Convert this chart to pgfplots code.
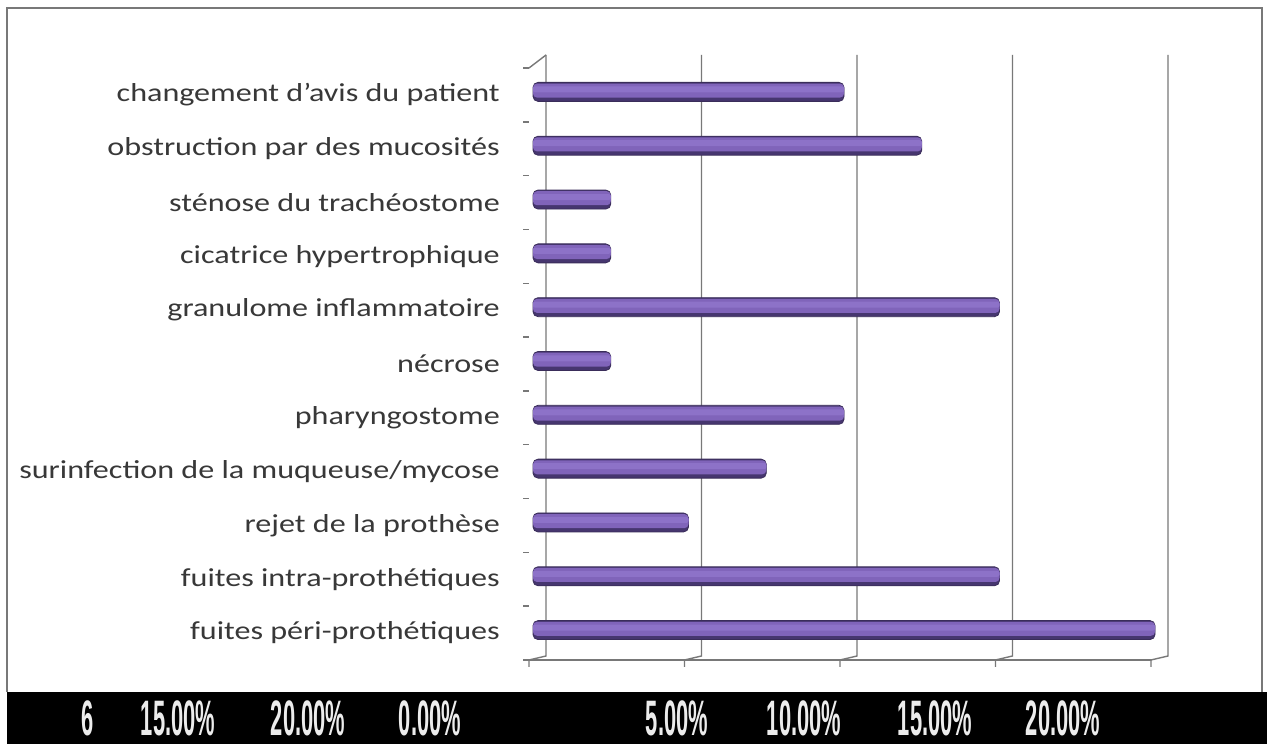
\documentclass[border=0pt]{standalone}
\usepackage{pgfplots}
\pgfplotsset{compat=1.18}
\usepackage{fontspec}
\setmainfont{Carlito}
\newfontfamily\bandfont{Liberation Sans}
\definecolor{barDark}{HTML}{46366F}
\definecolor{barMain}{HTML}{8064BA}
\definecolor{barLight}{HTML}{8D72C8}
\definecolor{barEdge}{HTML}{3A2D5A}
\definecolor{gridc}{HTML}{787878}
\pgfplotstableread{
y v
0 20
1 15
2 5
3 7.5
4 10
5 2.5
6 15
7 2.5
8 2.5
9 12.5
10 10
}\datatable
\begin{document}
\begin{tikzpicture}[x=1bp,y=1bp]
\useasboundingbox (0,0) rectangle (1267,744);
\fill[white] (0,0) rectangle (1267,744);
% outer frame
\draw[gridc, line width=2bp] (7,52) -- (7,736) -- (1262,736) -- (1262,52);
% black band with labels
\fill[black] (7,0) rectangle (1267,52);
\foreach \xx/\tt in {88/6,178/15.00\%,308/20.00\%,430/0.00\%,677/5.00\%,804/10.00\%,935/15.00\%,1063/20.00\%}{
  \node[text=white!85!gray, inner sep=0pt, xscale=0.44, font=\bandfont\bfseries\fontsize{50}{50}\selectfont] at (\xx,26) {\tt};
}
\begin{axis}[
  at={(533bp,84bp)}, anchor=south west,
  scale only axis, width=622bp, height=592bp,
  xmin=0, xmax=20, ymin=-0.5, ymax=10.5,
  axis line style={draw=none},
  xtick=\empty,
  ytick={0,...,10},
  yticklabels={fuites péri-prothétiques, fuites intra-prothétiques, rejet de la prothèse, surinfection de la muqueuse/mycose, pharyngostome, nécrose, granulome inflammatoire, cicatrice hypertrophique, sténose du trachéostome, obstruction par des mucosités, changement d'avis du patient},
  major tick length=0pt,
  yticklabel style={font=\fontsize{26}{26}\selectfont, inner sep=0pt, anchor=east, xshift=-33bp, xscale=1.24, text=black!78},
  clip=false,
]
% back wall gridlines and floor connectors
\pgfplotsinvokeforeach{0,5,10,15,20}{
  \draw[gridc, line width=1.4bp] ([xshift=13bp,yshift=13bp]axis cs:#1,10.5) -- ([xshift=13bp,yshift=4bp]axis cs:#1,-0.5) -- ([xshift=-4bp]axis cs:#1,-0.5) -- ([xshift=-4bp,yshift=-7bp]axis cs:#1,-0.5);
}
% front floor line
\draw[gridc, line width=1.4bp] ([xshift=-8bp]axis cs:0,-0.5) -- ([xshift=-4bp]axis cs:20,-0.5);
% left ticks at category boundaries
\pgfplotsinvokeforeach{-0.5,0.5,1.5,2.5,3.5,4.5,5.5,6.5,7.5,8.5,9.5,10.5}{
  \draw[gridc, line width=1.4bp] ([xshift=-10bp]axis cs:0,#1) -- ([xshift=-4bp]axis cs:0,#1);
}
\draw[gridc, line width=1.4bp] ([xshift=-4bp]axis cs:0,10.5) -- ([xshift=13bp,yshift=13bp]axis cs:0,10.5);
% cylinder bars built up in layers
\addplot[xbar, bar width=19bp, bar shift=3bp, draw=barEdge, line width=0.8bp, fill=barDark, rounded corners=5bp] table[x=v,y=y] {\datatable};
\addplot[xbar, bar width=14bp, bar shift=4.3bp, draw=none, fill=barMain, rounded corners=4bp] table[x=v,y=y] {\datatable};
\addplot[xbar, bar width=6bp, bar shift=5.5bp, draw=none, fill=barLight, rounded corners=2bp] table[x=v,y=y] {\datatable};
\end{axis}
\end{tikzpicture}
\end{document}
